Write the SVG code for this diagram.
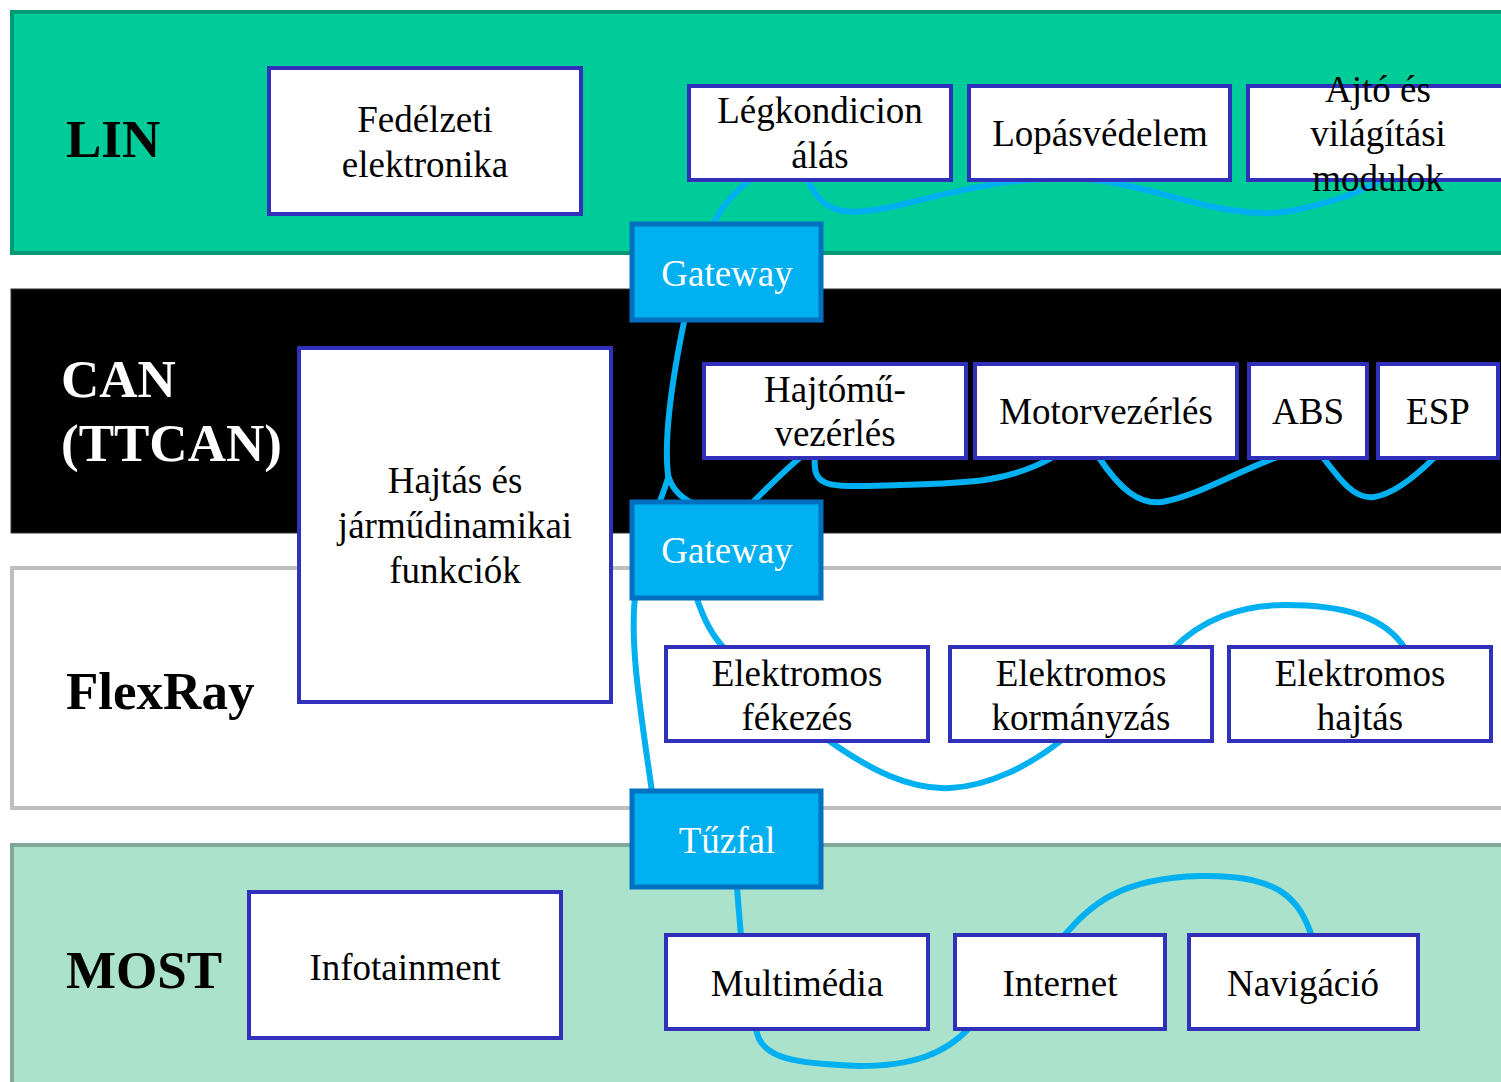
<svg xmlns="http://www.w3.org/2000/svg" width="1501" height="1082" viewBox="0 0 1501 1082">
  <style>
    .band-label { font-family: "Liberation Serif", "Times New Roman", serif; font-weight: bold; font-size: 53px; }
    .node rect { fill: #ffffff; stroke: #3030bb; stroke-width: 4; }
    .node text { font-family: "Liberation Serif", "Times New Roman", serif; font-size: 37px; fill: #000000; text-anchor: middle; }
    .gw rect { fill: #00b0f0; stroke: #0070c0; stroke-width: 5; }
    .gw text { font-family: "Liberation Serif", "Times New Roman", serif; font-size: 37px; fill: #ffffff; text-anchor: middle; }
    .bus { fill: none; stroke: #00b0f0; stroke-width: 6; stroke-linecap: round; }
  </style>

  <!-- Network layers -->
  <g id="band-lin">
    <rect x="12" y="12" width="1500" height="241" fill="#00cc99" stroke="#009977" stroke-width="4"/>
    <text class="band-label" x="66" y="157">LIN</text>
  </g>
  <g id="band-can">
    <rect x="11" y="289" width="1500" height="244" fill="#000000" stroke="#333333" stroke-width="1"/>
    <text class="band-label" x="61" y="397" fill="#ffffff">CAN</text>
    <text class="band-label" x="61" y="461" fill="#ffffff">(TTCAN)</text>
  </g>
  <g id="band-flexray">
    <rect x="12" y="568" width="1500" height="240" fill="#ffffff" stroke="#bfbfbf" stroke-width="4"/>
    <text class="band-label" x="66" y="709">FlexRay</text>
  </g>
  <g id="band-most">
    <rect x="12" y="845" width="1500" height="245" fill="#abe2cb" stroke="#7fa896" stroke-width="4"/>
    <text class="band-label" x="66" y="988">MOST</text>
  </g>

  <!-- Bus lines -->
  <g id="connectors">
    <!-- LIN -->
    <path class="bus" d="M 712 226 C 722 205, 735 192, 752 178"/>
    <path class="bus" d="M 806 176 C 822 215, 845 218, 900 205 C 960 190, 1040 168, 1120 184 C 1180 196, 1240 222, 1295 210 C 1335 202, 1365 190, 1385 178"/>
    <!-- CAN -->
    <path class="bus" d="M 684 322 C 672 380, 664 440, 668 475 C 672 490, 682 498, 692 503"/>
    <path class="bus" d="M 652 792 C 642 720, 628 640, 636 590 C 642 540, 660 505, 668 478"/>
    <path class="bus" d="M 752 503 C 770 485, 785 470, 802 456"/>
    <path class="bus" d="M 815 456 C 812 490, 828 487, 900 485 C 970 483, 1010 482, 1055 456"/>
    <path class="bus" d="M 1098 456 C 1120 490, 1140 505, 1162 502 C 1200 495, 1240 470, 1280 456"/>
    <path class="bus" d="M 1322 456 C 1340 480, 1355 500, 1374 497 C 1395 494, 1420 472, 1436 456"/>
    <!-- FlexRay -->
    <path class="bus" d="M 696 596 C 704 620, 712 636, 726 650"/>
    <path class="bus" d="M 828 740 C 870 770, 910 790, 950 788 C 990 786, 1030 765, 1062 740"/>
    <path class="bus" d="M 1172 650 C 1200 620, 1240 605, 1285 605 C 1340 605, 1385 615, 1406 650"/>
    <!-- MOST -->
    <path class="bus" d="M 737 886 C 738 905, 740 920, 741 938"/>
    <path class="bus" d="M 756 1027 C 758 1060, 800 1064, 860 1066 C 910 1066, 945 1055, 970 1027"/>
    <path class="bus" d="M 1063 937 C 1090 905, 1120 878, 1200 876 C 1280 874, 1300 900, 1312 937"/>
  </g>

  <!-- LIN nodes -->
  <g id="node-fedelzeti" class="node">
    <rect x="269" y="68" width="312" height="146"/>
    <text x="425" y="132">Fedélzeti</text>
    <text x="425" y="177">elektronika</text>
  </g>
  <g id="node-legkondicionalas" class="node">
    <rect x="689" y="86" width="262" height="94"/>
    <text x="820" y="123">Légkondicion</text>
    <text x="820" y="168">álás</text>
  </g>
  <g id="node-lopasvedelem" class="node">
    <rect x="969" y="86" width="261" height="94"/>
    <text x="1100" y="146">Lopásvédelem</text>
  </g>
  <g id="node-ajto" class="node">
    <rect x="1248" y="86" width="270" height="94"/>
    <text x="1378" y="102">Ajtó és</text>
    <text x="1378" y="146">világítási</text>
    <text x="1378" y="191">modulok</text>
  </g>

  <!-- CAN nodes -->
  <g id="node-hajtas-dinamika" class="node">
    <rect x="299" y="348" width="312" height="354"/>
    <text x="455" y="493">Hajtás és</text>
    <text x="455" y="538">járműdinamikai</text>
    <text x="455" y="583">funkciók</text>
  </g>
  <g id="node-hajtomu" class="node">
    <rect x="704" y="364" width="262" height="94"/>
    <text x="835" y="402">Hajtómű-</text>
    <text x="835" y="446">vezérlés</text>
  </g>
  <g id="node-motorvezerles" class="node">
    <rect x="975" y="364" width="262" height="94"/>
    <text x="1106" y="424">Motorvezérlés</text>
  </g>
  <g id="node-abs" class="node">
    <rect x="1249" y="364" width="118" height="94"/>
    <text x="1308" y="424">ABS</text>
  </g>
  <g id="node-esp" class="node">
    <rect x="1378" y="364" width="120" height="94"/>
    <text x="1438" y="424">ESP</text>
  </g>

  <!-- FlexRay nodes -->
  <g id="node-fekezes" class="node">
    <rect x="666" y="647" width="262" height="94"/>
    <text x="797" y="686">Elektromos</text>
    <text x="797" y="730">fékezés</text>
  </g>
  <g id="node-kormanyzas" class="node">
    <rect x="950" y="647" width="262" height="94"/>
    <text x="1081" y="686">Elektromos</text>
    <text x="1081" y="730">kormányzás</text>
  </g>
  <g id="node-hajtas" class="node">
    <rect x="1229" y="647" width="262" height="94"/>
    <text x="1360" y="686">Elektromos</text>
    <text x="1360" y="730">hajtás</text>
  </g>

  <!-- MOST nodes -->
  <g id="node-infotainment" class="node">
    <rect x="249" y="892" width="312" height="146"/>
    <text x="405" y="980">Infotainment</text>
  </g>
  <g id="node-multimedia" class="node">
    <rect x="666" y="935" width="262" height="94"/>
    <text x="797" y="996">Multimédia</text>
  </g>
  <g id="node-internet" class="node">
    <rect x="955" y="935" width="210" height="94"/>
    <text x="1060" y="996">Internet</text>
  </g>
  <g id="node-navigacio" class="node">
    <rect x="1189" y="935" width="229" height="94"/>
    <text x="1303" y="996">Navigáció</text>
  </g>

  <!-- Gateways between layers -->
  <g id="gateway-lin-can" class="gw">
    <rect x="632" y="224" width="189" height="96"/>
    <text x="727" y="286">Gateway</text>
  </g>
  <g id="gateway-can-flexray" class="gw">
    <rect x="632" y="502" width="189" height="96"/>
    <text x="727" y="563">Gateway</text>
  </g>
  <g id="firewall" class="gw">
    <rect x="632" y="791" width="189" height="96"/>
    <text x="727" y="853">Tűzfal</text>
  </g>
</svg>
